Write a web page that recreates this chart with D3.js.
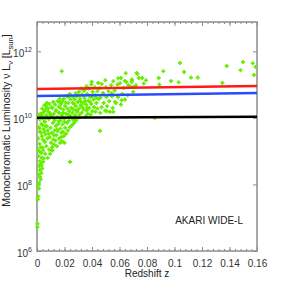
<!DOCTYPE html>
<meta charset="utf-8">
<script src="https://d3js.org/d3.v7.min.js"></script>
<style>
body { margin: 0; background: #fff; }
.axis path, .axis line { stroke: #8c8c8c; }
.axis text { fill: #333; font-family: "Liberation Sans Narrow", "Liberation Sans", sans-serif; font-size: 10px; }
</style>
<body>
<div id="chart"></div>
<script>
// tick values
var xTicks = [0, 0.02, 0.04, 0.06, 0.08, 0.1, 0.12, 0.14, 0.16];
var xTickLabels = ["0", "0.02", "0.04", "0.06", "0.08", "0.1", "0.12", "0.14", "0.16"];
var yTickExp = [6, 8, 10, 12];

// sources: redshift and log10 luminosity
var redshift = [
  0.0003,0.0004,0.0006,0.0009,0.0015,0.0008,0.0022,0.0031,0.0020,0.0033,0.0044,0.0021,0.0012,0.0030,0.0008,0.0041,0.0018,0.0052,0.0010,0.0035,
  0.0062,0.0022,0.0048,0.0012,0.0071,0.0032,0.0058,0.0020,0.0085,0.0042,0.0068,0.0028,0.0095,0.0052,0.0080,0.0065,0.0105,0.0090,0.0118,0.0055,
  0.0078,0.0095,0.0088,0.0110,0.0102,0.0125,0.0118,0.0135,0.0092,0.0140,0.0108,0.0128,0.0150,0.0098,0.0138,0.0115,0.0155,0.0130,0.0105,0.0148,
  0.0122,0.0160,0.0140,0.0112,0.0158,0.0132,0.0150,0.0165,
  0.0168,0.0182,0.0175,0.0195,0.0210,0.0188,0.0225,0.0170,0.0205,0.0240,0.0185,0.0218,0.0172,0.0232,0.0198,0.0245,0.0180,0.0212,0.0235,0.0192,
  0.0250,0.0205,0.0175,0.0228,0.0245,0.0195,0.0215,0.0238,
  0.0255,0.0270,0.0262,0.0285,0.0300,0.0278,0.0310,0.0258,0.0292,0.0325,0.0268,0.0305,0.0340,0.0282,0.0318,0.0260,0.0298,0.0335,0.0275,0.0312,
  0.0345,0.0290,0.0328,0.0265,0.0305,0.0340,0.0282,0.0322,
  0.0355,0.0370,0.0390,0.0362,0.0402,0.0425,0.0380,0.0415,0.0440,0.0358,0.0395,0.0432,0.0372,0.0410,0.0448,0.0388,0.0425,0.0365,0.0405,0.0440,
  0.0378,0.0420,0.0395,0.0445,0.0360,
  0.0460,0.0495,0.0530,0.0470,0.0510,0.0550,0.0485,0.0525,0.0575,0.0460,0.0505,0.0545,0.0590,0.0480,0.0520,0.0565,0.0500,0.0540,0.0585,0.0470,
  0.0555,
  0.0610,0.0640,0.0620,0.0660,0.0700,0.0630,0.0675,0.0720,0.0650,0.0690,0.0740,
  0.0180,0.0645,0.0725,0.0690,0.0610,0.0497,0.0398,0.0458,0.0200,0.0240,0.0107,
  0.0591,0.0640,0.0689,0.0604,0.0664,0.0700,0.0543,0.0616,0.0567,0.0555,0.0507,0.0730,
  0.0764,0.0776,0.0793,0.0885,0.0890,0.0919,0.0975,0.1030,0.1040,0.1070,0.1120,0.1169,0.1348,0.1380,0.1480,0.1498,0.1569,0.1590,0.1578,0.0856,
  0.0015,0.0027,0.0010,0.0038,0.0016,0.0050,0.0026,0.0060,0.0036,0.0016,0.0046,0.0068,0.0027,0.0058,0.0075,0.0042,0.0030,0.0085,0.0055,0.0018,
  0.0040,0.0078,0.0062,0.0050,0.0032,0.0075,0.0015,0.0045,0.0062,0.0098,0.0082,0.0038,0.0072,
  0.0113,0.0145,0.0160,0.0125,0.0160,0.0178,0.0145,0.0118,0.0190,0.0170,0.0222,0.0200,0.0228,0.0135,0.0185,0.0208,0.0230,0.0162,
  0.0275,0.0290,0.0330,0.0315,0.0272,0.0350,0.0365,0.0385,0.0400,0.0350,0.0430,0.0455
];
var logLum = [
  6.72,6.82,7.55,7.64,7.88,7.98,8.22,8.34,8.43,8.57,8.68,8.70,8.85,8.95,9.05,9.10,9.22,9.30,9.38,9.45,
  9.50,9.58,9.66,9.72,9.75,9.82,9.88,9.95,9.96,10.02,10.08,10.12,10.14,10.20,10.28,10.35,10.32,10.42,10.48,10.38,
  8.80,8.92,9.05,9.12,9.25,9.20,9.35,9.32,9.42,9.48,9.55,9.62,9.60,9.70,9.76,9.85,9.82,9.93,10.05,10.02,
  10.12,10.15,10.22,10.30,10.34,10.40,10.50,10.58,
  9.25,9.30,9.42,9.45,9.52,9.58,9.62,9.68,9.70,9.72,9.80,9.85,9.92,9.92,9.98,10.05,10.08,10.12,10.20,10.25,
  10.30,10.36,10.42,10.45,10.55,10.58,10.65,10.72,
  9.78,9.85,9.95,9.92,10.00,10.08,10.10,10.15,10.18,10.16,10.25,10.28,10.25,10.35,10.38,10.45,10.48,10.45,10.55,10.58,
  10.60,10.65,10.70,10.62,10.78,10.82,10.74,10.88,
  10.05,10.12,10.10,10.22,10.20,10.18,10.30,10.32,10.28,10.40,10.42,10.45,10.52,10.55,10.56,10.62,10.68,10.72,10.78,10.80,
  10.88,10.92,11.00,11.05,10.95,
  10.15,10.22,10.18,10.32,10.35,10.30,10.45,10.50,10.45,10.60,10.62,10.65,10.62,10.75,10.80,10.82,10.92,10.98,11.00,11.02,
  11.10,
  10.40,10.55,10.72,10.68,10.78,10.90,10.95,10.98,11.08,11.15,11.20,
  11.40,11.34,11.35,11.13,11.20,11.13,11.08,9.61,9.25,8.68,9.03,
  11.19,11.11,11.08,11.04,10.98,10.93,10.74,10.53,10.48,10.18,10.20,11.32,
  11.20,11.03,11.13,11.20,11.00,11.40,11.11,11.07,11.65,11.38,11.21,11.21,11.05,11.56,11.43,11.68,11.64,11.53,11.29,10.00,
  8.05,8.15,8.30,8.48,8.55,8.78,8.62,8.92,8.80,9.00,9.02,9.15,9.12,9.28,9.38,9.35,9.55,9.52,9.58,9.68,
  9.78,9.62,9.75,9.95,10.05,10.00,10.10,10.15,10.25,10.08,10.18,10.28,10.45,
  9.02,9.15,9.38,9.48,9.90,9.55,9.65,10.00,10.15,10.30,10.28,9.88,10.10,10.22,10.50,10.46,10.62,10.48,
  9.98,10.22,10.32,10.50,10.42,10.50,10.30,10.48,10.65,10.85,10.60,10.90
];

// model lines, log10 luminosity at z = 0 and z = 0.16
var lineZ = [0, 0.16];
var redLine = [10.87, 10.96];
var blueLine = [10.66, 10.75];
var blackLine = [10.00, 10.03];

var margin = {top: 22, right: 27, bottom: 33, left: 37},
    width = 284 - margin.left - margin.right,
    height = 284 - margin.top - margin.bottom;

var svg = d3.select("#chart")
  .append("svg")
    .attr("width", 284)
    .attr("height", 284)
  .append("g")
    .attr("transform", "translate(" + margin.left + "," + margin.top + ")");

var x = d3.scaleLinear().domain([0, 0.16]).range([0, width]);
var y = d3.scaleLog().domain([1e6, Math.pow(10, 12.88)]).range([height, 0]);

var minorX = d3.range(0, 41).map(function(i) { return i * 0.004; });

// minor x ticks, bottom and top
svg.append("g").attr("class", "axis")
  .attr("transform", "translate(0," + height + ")")
  .call(d3.axisBottom(x).tickValues(minorX).tickSize(-2).tickFormat(""))
  .select(".domain").remove();
svg.append("g").attr("class", "axis")
  .call(d3.axisTop(x).tickValues(minorX).tickSize(-2).tickFormat(""))
  .select(".domain").remove();

// major x ticks
svg.append("g").attr("class", "axis")
  .attr("transform", "translate(0," + height + ")")
  .call(d3.axisBottom(x).tickValues(xTicks).tickSize(-4).tickPadding(9)
    .tickFormat(function(d, i) { return xTickLabels[i]; }))
  .call(function(g) { g.select(".domain").remove(); });
svg.append("g").attr("class", "axis")
  .call(d3.axisTop(x).tickValues(xTicks).tickSize(-4).tickFormat(""))
  .select(".domain").remove();

// y ticks left and right
var yTickVals = yTickExp.map(function(e) { return Math.pow(10, e); });
var yl = svg.append("g").attr("class", "axis")
  .call(d3.axisLeft(y).tickValues(yTickVals).tickSize(-4).tickFormat(""));
yl.select(".domain").remove();
yl.selectAll(".tick").each(function(d, i) {
  var t = d3.select(this).append("text")
    .attr("x", -5).attr("y", 5)
    .attr("text-anchor", "end")
    .style("font-size", "10px");
  t.append("tspan").text("10");
  t.append("tspan").attr("dy", -5).style("font-size", "7px").text(yTickExp[i]);
});
svg.append("g").attr("class", "axis")
  .attr("transform", "translate(" + width + ",0)")
  .call(d3.axisRight(y).tickValues(yTickVals).tickSize(-4).tickFormat(""))
  .select(".domain").remove();

// frame
svg.append("rect")
  .attr("width", width).attr("height", height)
  .attr("fill", "none").attr("stroke", "#8c8c8c").attr("stroke-width", 1.5);

// scatter
var pts = redshift.map(function(z, i) { return [z, Math.pow(10, logLum[i])]; });
svg.append("g").selectAll("path")
  .data(pts)
  .enter()
  .append("path")
    .attr("transform", function(d) { return "translate(" + x(d[0]) + "," + y(d[1]) + ")"; })
    .attr("d", "M-2,0H2M0,-2V2")
    .attr("stroke", "#66ee00")
    .attr("stroke-width", 1.7);

// lines
var line = d3.line()
  .x(function(d) { return x(d[0]); })
  .y(function(d) { return y(Math.pow(10, d[1])); });
[[blackLine, "#000000"], [blueLine, "#2a4cff"], [redLine, "#ff1a1a"]].forEach(function(l) {
  svg.append("path")
    .datum(lineZ.map(function(z, i) { return [z, l[0][i]]; }))
    .attr("fill", "none")
    .attr("stroke", l[1])
    .attr("stroke-width", 2.5)
    .attr("d", line);
});

// labels
svg.append("text")
  .attr("x", width / 2).attr("y", height + 26)
  .attr("text-anchor", "middle")
  .style("font-family", "Liberation Sans, sans-serif").style("font-size", "10px").style("fill", "#222")
  .text("Redshift z");

var yl2 = svg.append("text")
  .attr("transform", "translate(-27," + (height / 2 - 16) + ") rotate(-90)")
  .attr("text-anchor", "middle")
  .style("font-family", "Liberation Sans, sans-serif").style("font-size", "10.5px").style("fill", "#222");
yl2.append("tspan").text("Monochromatic Luminosity  \u03bd L");
yl2.append("tspan").attr("dy", 3).style("font-size", "7.5px").text("\u03bd");
yl2.append("tspan").attr("dy", -3).text(" [L");
yl2.append("tspan").attr("dy", 3).style("font-size", "7.5px").text("sun");
yl2.append("tspan").attr("dy", -3).text("]");

svg.append("text")
  .attr("x", x(0.1005)).attr("y", 202)
  .style("font-family", "Liberation Sans Narrow, Liberation Sans, sans-serif").style("font-size", "10px").style("fill", "#222")
  .text("AKARI WIDE-L");
</script>
</body>
